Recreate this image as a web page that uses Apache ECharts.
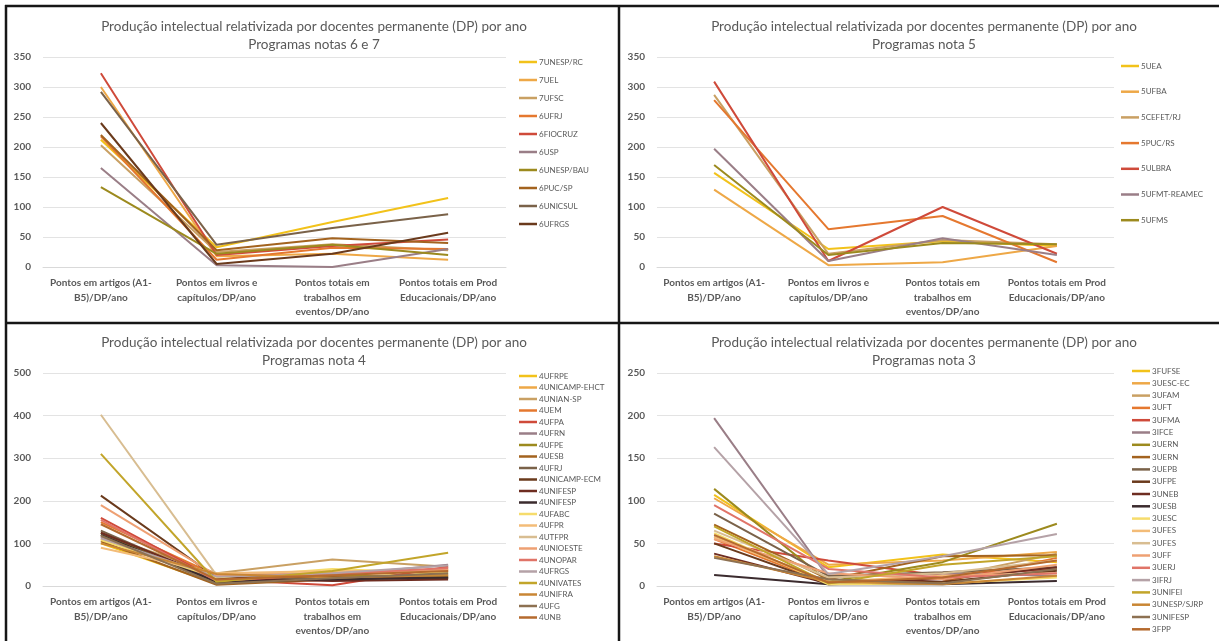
<!DOCTYPE html>
<html>
<head>
<meta charset="utf-8">
<script src="https://cdn.jsdelivr.net/npm/echarts@6/dist/echarts.min.js"></script>
<style>
  html, body { margin: 0; padding: 0; background: #fff; }
  #chart { width: 1219px; height: 641px; }
</style>
</head>
<body>
<div id="chart"></div>
<script>
// Indicators on the category axis (same for all four panels)
const categories = [
  'Pontos em artigos (A1-\nB5)/DP/ano',
  'Pontos em livros e\ncapítulos/DP/ano',
  'Pontos totais em\ntrabalhos em\neventos/DP/ano',
  'Pontos totais em Prod\nEducacionais/DP/ano'
];

const mainTitle = 'Produção intelectual relativizada por docentes permanente (DP) por ano';

// Programas notas 6 e 7
const nota67Names = ['7UNESP/RC', '7UEL', '7UFSC', '6UFRJ', '6FIOCRUZ', '6USP', '6UNESP/BAU', '6PUC/SP', '6UNICSUL', '6UFRGS'];
const nota67Values = [
  [212, 33, 75, 115],
  [300, 18, 22, 12],
  [203, 25, 38, 28],
  [218, 12, 32, 30],
  [323, 20, 35, 46],
  [165, 3, 0, 30],
  [133, 22, 37, 20],
  [220, 28, 48, 40],
  [292, 37, 65, 88],
  [240, 5, 22, 57]
];

// Programas nota 5
const nota5Names = ['5UEA', '5UFBA', '5CEFET/RJ', '5PUC/RS', '5ULBRA', '5UFMT-REAMEC', '5UFMS'];
const nota5Values = [
  [157, 30, 43, 35],
  [129, 3, 8, 35],
  [287, 22, 45, 38],
  [278, 63, 85, 8],
  [309, 10, 100, 22],
  [197, 10, 48, 20],
  [170, 20, 40, 38]
];

// Programas nota 4 (a second "4UNIFESP" entry is kept apart with a suffix)
const nota4Names = ['4UFRPE', '4UNICAMP-EHCT', '4UNIAN-SP', '4UEM', '4UFPA', '4UFRN', '4UFPE', '4UESB', '4UFRJ',
  '4UNICAMP-ECM', '4UNIFESP', '4UNIFESP#2', '4UFABC', '4UFPR', '4UTFPR', '4UNIOESTE', '4UNOPAR', '4UFRGS',
  '4UNIVATES', '4UNIFRA', '4UFG', '4UNB'];
const nota4Values = [
  [100, 5, 20, 30],
  [110, 20, 25, 40],
  [120, 30, 62, 45],
  [150, 25, 30, 35],
  [160, 15, 2, 45],
  [115, 10, 25, 50],
  [125, 8, 25, 22],
  [105, 3, 15, 20],
  [130, 12, 20, 25],
  [212, 20, 22, 18],
  [125, 18, 12, 15],
  [120, 10, 15, 20],
  [108, 20, 40, 30],
  [90, 30, 35, 35],
  [402, 25, 28, 40],
  [190, 25, 30, 38],
  [155, 12, 28, 42],
  [112, 22, 30, 48],
  [310, 10, 35, 78],
  [100, 28, 20, 25],
  [118, 5, 18, 30],
  [145, 15, 25, 35]
];

// Programas nota 3
const nota3Names = ['3FUFSE', '3UESC-EC', '3UFAM', '3UFT', '3UFMA', '3IFCE', '3UERN', '3UERN#2', '3UEPB', '3UFPE',
  '3UNEB', '3UESB', '3UESC', '3UFES', '3UFES#2', '3UFF', '3UERJ', '3IFRJ', '3UNIFEI', '3UNESP/SJRP', '3UNIFESP', '3FPP'];
const nota3Values = [
  [107, 22, 37, 28],
  [103, 25, 30, 40],
  [58, 5, 10, 38],
  [55, 3, 5, 33],
  [50, 30, 12, 20],
  [197, 10, 15, 12],
  [114, 5, 28, 73],
  [72, 8, 35, 36],
  [85, 12, 16, 22],
  [50, 2, 5, 18],
  [38, 3, 8, 22],
  [13, 2, 2, 6],
  [62, 2, 3, 10],
  [57, 5, 12, 15],
  [65, 10, 15, 30],
  [55, 15, 8, 25],
  [95, 20, 10, 15],
  [163, 14, 35, 61],
  [70, 3, 25, 35],
  [35, 5, 2, 12],
  [33, 8, 3, 20],
  [60, 4, 10, 30]
];

// Warm palette, applied in legend order
const palette = ['#F2C21A', '#EEA847', '#C9A063', '#E5782F', '#CF4A3A', '#9A7E87', '#9C8A1E', '#A3631F',
  '#7A6249', '#6A3A1C', '#6E2D21', '#3B2B2E', '#F6DC6C', '#F3BC78', '#D8BD91', '#EEA073', '#E07468',
  '#B5A2A7', '#C2A52A', '#C98634', '#8D7152', '#B56A2E'];

const textColor = '#595959';
const fontFamily = 'Lato, "Open Sans", sans-serif';

const panels = [
  { sub: 'Programas notas 6 e 7', names: nota67Names, values: nota67Values, max: 350, interval: 50,
    cx: 314, titleTop: 18, grid: { left: 43, top: 57, width: 463, height: 210 },
    legend: { left: 519, top: 57, itemGap: 8 } },
  { sub: 'Programas nota 5', names: nota5Names, values: nota5Values, max: 350, interval: 50,
    cx: 924, titleTop: 18, grid: { left: 657, top: 57, width: 457, height: 210 },
    legend: { left: 1121, top: 61, itemGap: 15.7 } },
  { sub: 'Programas nota 4', names: nota4Names, values: nota4Values, max: 500, interval: 100,
    cx: 314, titleTop: 334, grid: { left: 43, top: 373, width: 463, height: 213 },
    legend: { left: 519, top: 371, itemGap: 1.5 } },
  { sub: 'Programas nota 3', names: nota3Names, values: nota3Values, max: 250, interval: 50,
    cx: 924, titleTop: 334, grid: { left: 657, top: 373, width: 457, height: 213 },
    legend: { left: 1132, top: 366, itemGap: 2.3 } }
];

const option = {
  animation: false,
  backgroundColor: '#ffffff',
  title: [],
  grid: [],
  xAxis: [],
  yAxis: [],
  legend: [],
  series: [],
  graphic: []
};

panels.forEach((p, i) => {
  option.title.push({
    text: mainTitle + '\n' + p.sub,
    left: p.cx,
    top: p.titleTop,
    textAlign: 'center',
    padding: 0,
    textStyle: { color: textColor, fontFamily, fontSize: 13.5, fontWeight: 'normal', lineHeight: 18 }
  });
  option.grid.push(Object.assign({ containLabel: false }, p.grid));
  option.xAxis.push({
    type: 'category',
    gridIndex: i,
    data: categories,
    boundaryGap: true,
    axisLine: { lineStyle: { color: '#d9d9d9', width: 1 } },
    axisTick: { show: false },
    axisLabel: { interval: 0, color: textColor, fontFamily, fontSize: 10, fontWeight: 'bold', lineHeight: 14.5, margin: 9 }
  });
  option.yAxis.push({
    type: 'value',
    gridIndex: i,
    min: 0,
    max: p.max,
    interval: p.interval,
    axisLine: { show: false },
    axisTick: { show: false },
    splitLine: { lineStyle: { color: '#e3e3e3', width: 1 } },
    axisLabel: { color: textColor, fontFamily, fontSize: 10, fontWeight: 'bold', margin: 12 }
  });
  option.legend.push({
    orient: 'vertical',
    left: p.legend.left,
    top: p.legend.top,
    padding: 0,
    itemGap: p.legend.itemGap,
    itemWidth: 18,
    itemHeight: 2.5,
    icon: 'rect',
    selectedMode: false,
    data: p.names,
    formatter: name => name.replace(/#\d+$/, ''),
    textStyle: { color: textColor, fontFamily, fontSize: 8, lineHeight: 10, padding: [0, 0, 0, -3] }
  });
  p.names.forEach((name, k) => {
    option.series.push({
      type: 'line',
      name,
      xAxisIndex: i,
      yAxisIndex: i,
      data: p.values[k],
      symbol: 'none',
      color: palette[k],
      lineStyle: { width: 2, color: palette[k] },
      emphasis: { disabled: true }
    });
  });
});

// Frame lines separating the four panels
const frame = [
  [5, 6, 1219, 6],
  [6, 5, 6, 641],
  [619, 5, 619, 641],
  [6, 323, 1219, 323]
];
frame.forEach(([x1, y1, x2, y2]) => {
  option.graphic.push({
    type: 'line',
    shape: { x1, y1, x2, y2 },
    style: { stroke: '#161616', lineWidth: 2.5 },
    z: 100
  });
});

const chart = echarts.init(document.getElementById('chart'), null, { renderer: 'canvas' });
chart.setOption(option);
</script>
</body>
</html>
